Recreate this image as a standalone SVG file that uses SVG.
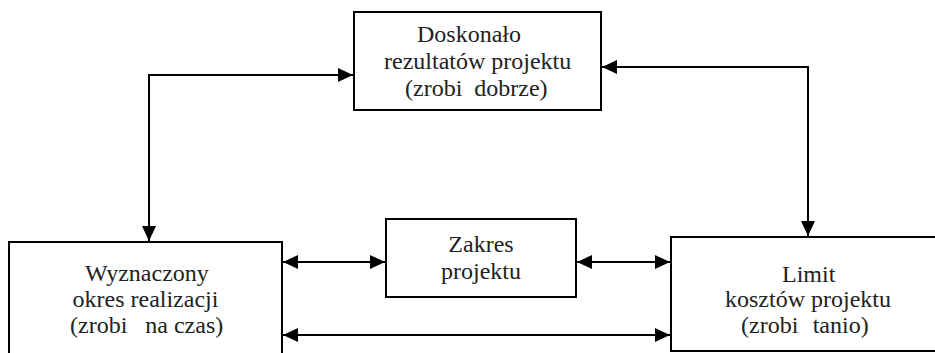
<svg xmlns="http://www.w3.org/2000/svg" width="935" height="353" viewBox="0 0 935 353">
<style>
.box{fill:#fff;stroke:#000;stroke-width:2}
.con{fill:none;stroke:#000;stroke-width:2}
text{font-family:'Liberation Serif','Times New Roman',serif;font-size:24px;fill:#222}
</style>
<defs>
<marker id="ah" markerUnits="userSpaceOnUse" markerWidth="16" markerHeight="16" refX="15" refY="7" orient="auto-start-reverse" viewBox="0 0 16 14">
<path d="M0,0 L15,7 L0,14 z" fill="#000"/>
</marker>
</defs>
<rect width="935" height="353" fill="#fff"/>
<g id="connectors">
<polyline class="con" points="149,241 149,75 353,75" marker-start="url(#ah)" marker-end="url(#ah)"/>
<polyline class="con" points="602,67 808,67 808,236" marker-start="url(#ah)" marker-end="url(#ah)"/>
<line class="con" x1="283" y1="262" x2="385" y2="262" marker-start="url(#ah)" marker-end="url(#ah)"/>
<line class="con" x1="577" y1="262" x2="670" y2="262" marker-start="url(#ah)" marker-end="url(#ah)"/>
<line class="con" x1="283" y1="335" x2="670" y2="335" marker-start="url(#ah)" marker-end="url(#ah)"/>
</g>
<g id="top">
<rect class="box" x="354" y="12" width="247" height="98"/>
<text x="417" y="42">Doskonało</text>
<text x="384" y="69">rezultatów projektu</text>
<text x="405" y="96" xml:space="preserve">(zrobi  dobrze)</text>
</g>
<g id="left">
<rect class="box" x="9" y="242" width="273" height="130"/>
<text x="85" y="281">Wyznaczony</text>
<text x="72.5" y="307">okres realizacji</text>
<text x="70" y="333" xml:space="preserve">(zrobi   na czas)</text>
</g>
<g id="middle">
<rect class="box" x="386" y="219" width="190" height="78"/>
<text x="481" y="252" text-anchor="middle">Zakres</text>
<text x="481" y="279" text-anchor="middle">projektu</text>
</g>
<g id="right">
<rect class="box" x="671" y="237" width="300" height="114"/>
<text x="782" y="282">Limit</text>
<text x="725" y="307">kosztów projektu</text>
<text x="741" y="333" xml:space="preserve" word-spacing="1.2">(zrobi  tanio)</text>
</g>
</svg>
